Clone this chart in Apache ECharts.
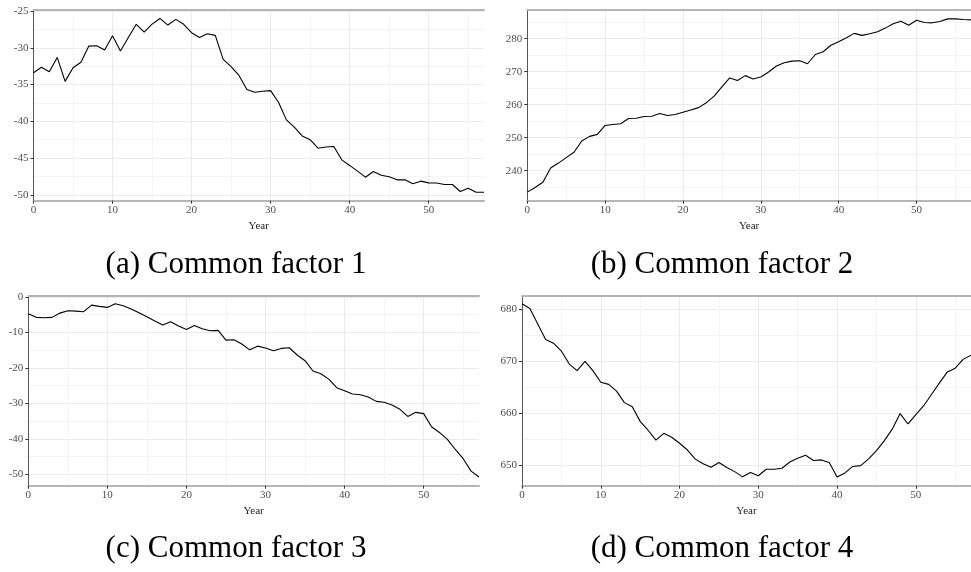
<!DOCTYPE html>
<html>
<head>
<meta charset="utf-8">
<script src="https://cdn.jsdelivr.net/npm/echarts@6/dist/echarts.min.js"></script>
<style>
html,body{margin:0;padding:0;background:#fff;}
#chart{width:971px;height:572px;}
</style>
</head>
<body>
<div id="chart"></div>
<script>
// ---- data ----
const years = [0,1,2,3,4,5,6,7,8,9,10,11,12,13,14,15,16,17,18,19,20,21,22,23,24,25,26,27,28,29,30,31,32,33,34,35,36,37,38,39,40,41,42,43,44,45,46,47,48,49,50,51,52,53,54,55,56,57];

const factor1 = [-33.38,-32.65,-33.24,-31.3,-34.56,-32.7,-31.97,-29.76,-29.71,-30.3,
  -28.35,-30.43,-28.6,-26.8,-27.85,-26.77,-26.0,-26.9,-26.13,-26.8,
  -27.94,-28.58,-28.08,-28.3,-31.57,-32.56,-33.75,-35.68,-36.05,-35.9,
  -35.82,-37.4,-39.8,-40.8,-41.98,-42.5,-43.66,-43.5,-43.43,-45.24,
  -46.0,-46.78,-47.6,-46.83,-47.33,-47.55,-47.96,-47.96,-48.5,-48.14,
  -48.37,-48.4,-48.6,-48.6,-49.55,-49.1,-49.64,-49.65];

const factor2 = [233.5,234.9,236.5,240.8,242.3,243.95,245.6,249.0,250.4,251.0,
  253.7,254.0,254.2,255.8,255.9,256.4,256.5,257.3,256.7,257.0,
  257.7,258.4,259.1,260.6,262.6,265.4,268.1,267.3,268.8,267.8,
  268.4,269.9,271.7,272.7,273.2,273.3,272.4,275.2,276.05,278.0,
  279.1,280.3,281.6,281.0,281.5,282.1,283.2,284.5,285.3,284.05,
  285.6,284.9,284.8,285.2,286.0,286.0,285.8,285.7];

const factor3 = [-4.78,-5.8,-5.9,-5.8,-4.6,-3.94,-4.03,-4.2,-2.35,-2.7,
  -3.0,-1.97,-2.53,-3.47,-4.5,-5.63,-6.85,-7.97,-7.04,-8.26,
  -9.19,-8.07,-9.0,-9.57,-9.47,-12.2,-12.1,-13.3,-14.95,-13.9,
  -14.45,-15.2,-14.54,-14.35,-16.4,-18.0,-20.9,-21.7,-23.2,-25.6,
  -26.45,-27.4,-27.6,-28.2,-29.46,-29.7,-30.5,-31.7,-33.7,-32.55,
  -32.9,-36.6,-38.2,-40.15,-43.0,-45.6,-49.1,-50.75];

const factor4 = [680.96,680.06,677.1,674.1,673.4,671.9,669.4,668.15,669.9,668.15,
  665.9,665.5,664.2,662.0,661.2,658.4,656.7,654.8,656.1,655.35,
  654.2,652.9,651.15,650.25,649.6,650.5,649.55,648.75,647.75,648.6,
  647.96,649.2,649.2,649.4,650.6,651.3,651.9,650.9,651.0,650.5,
  647.7,648.5,649.75,649.9,651.2,652.8,654.7,656.9,659.9,657.9,
  659.7,661.4,663.6,665.8,667.9,668.6,670.3,671.1];

const xTicks = [0,10,20,30,40,50];
const xMinor = [5,15,25,35,45,55];
const yTicks1 = [-50,-45,-40,-35,-30,-25];
const yMinor1 = [-47.5,-42.5,-37.5,-32.5,-27.5];
const yTicks2 = [240,250,260,270,280];
const yMinor2 = [235,245,255,265,275,285];
const yTicks3 = [-50,-40,-30,-20,-10,0];
const yMinor3 = [-45,-35,-25,-15,-5];
const yTicks4 = [650,660,670,680];
const yMinor4 = [655,665,675];
const captions = ['(a) Common factor 1','(b) Common factor 2','(c) Common factor 3','(d) Common factor 4'];
const xLabel = 'Year';

// ---- layout ----
const FONT = "'Liberation Serif', 'DejaVu Serif', serif";
const panels = [
  {grid:{left:33.5, top:10, width:450.5, height:190.7}, y:factor1, ymin:-50.8, ymax:-24.85, yt:yTicks1, ym:yMinor1, xmax:57, cap:[236,265]},
  {grid:{left:527.3, top:9.3, width:449.7, height:191.4}, y:factor2, ymin:230.9, ymax:288.9, yt:yTicks2, ym:yMinor2, xmax:57, cap:[722,265]},
  {grid:{left:28.3, top:295.7, width:450.7, height:190}, y:factor3, ymin:-53.2, ymax:0.3, yt:yTicks3, ym:yMinor3, xmax:57, cap:[236,549]},
  {grid:{left:522, top:295.3, width:450, height:190.4}, y:factor4, ymin:646.05, ymax:682.6, yt:yTicks4, ym:yMinor4, xmax:57, cap:[722,549]}
];

const grids = [], xAxes = [], yAxes = [], series = [], graphics = [];
panels.forEach((p, i) => {
  grids.push(Object.assign({containLabel:false}, p.grid));
  // major x axis (bottom)
  xAxes.push({
    type:'value', gridIndex:i, position:'bottom', min:0, max:p.xmax,
    axisLine:{show:true, onZero:false, lineStyle:{color:'#b5b5b5', width:2}},
    axisTick:{show:true, length:3, customValues:xTicks, lineStyle:{color:'#333', width:1}},
    axisLabel:{show:true, customValues:xTicks, margin:4, fontFamily:FONT, fontSize:11, color:'#4d4d4d'},
    splitLine:{show:true, lineStyle:{color:'#ebebeb', width:1}},
    name:xLabel, nameLocation:'middle', nameGap:20,
    nameTextStyle:{fontFamily:FONT, fontSize:11, color:'#222'}
  });
  // minor x axis (top, also top border)
  xAxes.push({
    type:'value', gridIndex:i, position:'top', min:0, max:p.xmax,
    axisLine:{show:true, onZero:false, lineStyle:{color:'#b5b5b5', width:2}},
    axisTick:{show:false, customValues:xMinor},
    axisLabel:{show:false, customValues:xMinor},
    splitLine:{show:true, lineStyle:{color:'#f4f4f4', width:1}}
  });
  yAxes.push({
    type:'value', gridIndex:i, position:'left', min:p.ymin, max:p.ymax,
    axisLine:{show:true, onZero:false, lineStyle:{color:'#555', width:1}},
    axisTick:{show:true, length:3, customValues:p.yt, lineStyle:{color:'#333', width:1}},
    axisLabel:{show:true, customValues:p.yt, margin:5, fontFamily:FONT, fontSize:11, color:'#4d4d4d'},
    splitLine:{show:true, lineStyle:{color:'#ebebeb', width:1}}
  });
  yAxes.push({
    type:'value', gridIndex:i, position:'right', min:p.ymin, max:p.ymax,
    axisLine:{show:false, onZero:false},
    axisTick:{show:false, customValues:p.ym},
    axisLabel:{show:false, customValues:p.ym},
    splitLine:{show:true, lineStyle:{color:'#f4f4f4', width:1}}
  });
  series.push({
    type:'line', xAxisIndex:2*i, yAxisIndex:2*i,
    data: years.map((x, k) => [x, p.y[k]]),
    showSymbol:false, symbol:'none', clip:true, silent:true,
    lineStyle:{color:'#000', width:1.1}, z:5
  });
  graphics.push({
    type:'text', x:p.cap[0], y:p.cap[1],
    style:{text:captions[i], fontFamily:FONT, fontSize:31, fill:'#000', textAlign:'center', textVerticalAlign:'middle'}
  });
});

const chart = echarts.init(document.getElementById('chart'), null, {renderer:'canvas'});
chart.setOption({
  animation:false,
  backgroundColor:'#fff',
  grid:grids,
  xAxis:xAxes,
  yAxis:yAxes,
  series:series,
  graphic:graphics
});
</script>
</body>
</html>
